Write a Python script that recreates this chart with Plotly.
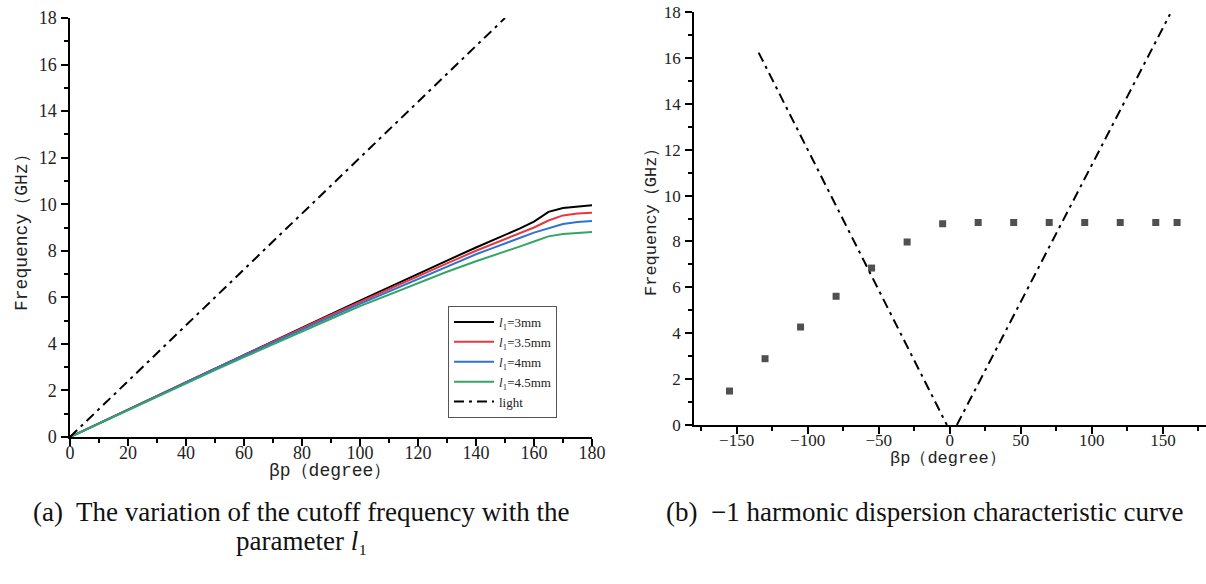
import plotly.graph_objects as go

# ---------------- data: (a) cutoff frequency vs beta*p ----------------
beta_a = [0, 10, 20, 30, 40, 50, 60, 70, 80, 90, 100, 110, 120, 130, 140,
          145, 150, 155, 160, 165, 170, 175, 180]
f_3mm = [0, 0.59, 1.18, 1.77, 2.36, 2.95, 3.54, 4.12, 4.70, 5.28, 5.86, 6.44,
         7.01, 7.58, 8.14, 8.40, 8.67, 8.95, 9.25, 9.67, 9.84, 9.90, 9.96]
f_35mm = [0, 0.60, 1.19, 1.77, 2.36, 2.94, 3.52, 4.10, 4.67, 5.24, 5.80, 6.36,
          6.92, 7.46, 8.00, 8.25, 8.52, 8.75, 9.00, 9.30, 9.52, 9.60, 9.63]
f_4mm = [0, 0.59, 1.18, 1.76, 2.34, 2.92, 3.49, 4.06, 4.62, 5.17, 5.72, 6.26,
         6.80, 7.32, 7.85, 8.08, 8.30, 8.55, 8.78, 8.98, 9.15, 9.24, 9.28]
f_45mm = [0, 0.58, 1.16, 1.73, 2.30, 2.87, 3.43, 3.99, 4.54, 5.08, 5.62, 6.12,
          6.60, 7.10, 7.55, 7.75, 7.97, 8.18, 8.40, 8.62, 8.72, 8.77, 8.81]
light_a_x = [0, 150]
light_a_y = [0, 18]

# ---------------- data: (b) -1 harmonic dispersion ----------------
beta_b = [-155, -130, -105, -80, -55, -30, -5, 20, 45, 70, 95, 120, 145, 160]
f_b = [1.48, 2.89, 4.27, 5.61, 6.84, 7.98, 8.77, 8.83, 8.83, 8.83, 8.83, 8.83, 8.83, 8.83]
light_left_x = [-134.5, -2]
light_left_y = [16.23, 0]
light_right_x = [5, 155]
light_right_y = [0, 17.9]

W, H = 1206, 584
SERIF = "Liberation Serif"
MONO = "Liberation Mono"
DASHDOT = "10px,5px,3px,5px"

fig = go.Figure()

series = [
    (f_3mm, "<i>l</i>₁=3mm", "#000000"),
    (f_35mm, "<i>l</i>₁=3.5mm", "#e8383d"),
    (f_4mm, "<i>l</i>₁=4mm", "#2e72d8"),
    (f_45mm, "<i>l</i>₁=4.5mm", "#35a565"),
]
for ys, name, col in series:
    fig.add_trace(go.Scatter(x=beta_a, y=ys, mode="lines", name=name,
                             line=dict(color=col, width=2),
                             xaxis="x", yaxis="y"))
fig.add_trace(go.Scatter(x=light_a_x, y=light_a_y, mode="lines", name="light",
                         line=dict(color="black", width=2, dash=DASHDOT),
                         xaxis="x", yaxis="y"))

# right panel
fig.add_trace(go.Scatter(x=beta_b, y=f_b, mode="markers", showlegend=False,
                         marker=dict(symbol="square", size=7, color="#505050"),
                         xaxis="x2", yaxis="y2"))
for lx, ly in [(light_left_x, light_left_y), (light_right_x, light_right_y)]:
    fig.add_trace(go.Scatter(x=lx, y=ly, mode="lines", showlegend=False,
                             line=dict(color="black", width=2, dash=DASHDOT),
                             xaxis="x2", yaxis="y2"))


def ax(fs, standoff, **kw):
    d = dict(showgrid=False, zeroline=False, showline=True, linecolor="black",
             linewidth=1.5, ticks="outside", ticklen=7, tickwidth=1.5,
             tickcolor="black", mirror=False, automargin=False,
             ticklabelstandoff=standoff,
             tickfont=dict(family=SERIF, size=fs, color="#222"))
    d.update(kw)
    return d


def minor(dt):
    return dict(dtick=dt, ticklen=4, ticks="outside", tickcolor="black", tickwidth=1.5)


fig.update_layout(
    width=W, height=H, margin=dict(l=0, r=0, t=0, b=0, autoexpand=False),
    paper_bgcolor="white", plot_bgcolor="white",
    xaxis=ax(18, -8, domain=[70 / W, 592 / W], range=[0, 180], dtick=20, tick0=0,
             minor=minor(10), anchor="y"),
    yaxis=ax(18, 1, domain=[(H - 437) / H, (H - 18) / H], range=[0, 18], dtick=2, tick0=0,
             minor=minor(1), anchor="x"),
    xaxis2=ax(17, -8, domain=[694 / W, 1205.5 / W], range=[-180, 180], dtick=50, tick0=0,
              minor=minor(25), anchor="y2"),
    yaxis2=ax(17, 1, domain=[(H - 425) / H, (H - 12) / H], range=[0, 18], dtick=2, tick0=0,
              minor=minor(1), anchor="x2"),
    showlegend=True,
    legend=dict(x=448 / W, y=(H - 306) / H, xanchor="left", yanchor="top",
                bordercolor="#555", borderwidth=1, bgcolor="white",
                font=dict(family=SERIF, size=13, color="#222"),
                tracegroupgap=0, itemwidth=40),
)

anns = [
    # axis titles
    dict(text="Frequency（GHz）", x=22 / W, y=(H - 228) / H, textangle=-90,
         font=dict(family=MONO, size=18, color="#222")),
    dict(text="βp（degree）", x=330 / W, y=(H - 471) / H,
         font=dict(family=MONO, size=18, color="#222")),
    dict(text="Frequency（GHz）", x=651 / W, y=(H - 218) / H, textangle=-90,
         font=dict(family=MONO, size=17, color="#222")),
    dict(text="βp（degree）", x=948 / W, y=(H - 458) / H,
         font=dict(family=MONO, size=17, color="#222")),
    # captions
    dict(text="(a)  The variation of the cutoff frequency with the", x=301 / W, y=(H - 512) / H,
         font=dict(family=SERIF, size=27, color="#111")),
    dict(text="parameter <i>l</i>₁", x=302 / W, y=(H - 541) / H,
         font=dict(family=SERIF, size=27, color="#111")),
    dict(text="(b)  −1 harmonic dispersion characteristic curve", x=925 / W, y=(H - 512) / H,
         font=dict(family=SERIF, size=27, color="#111")),
]
for a in anns:
    a.update(xref="paper", yref="paper", showarrow=False, xanchor="center", yanchor="middle")
    fig.add_annotation(**a)

fig.write_html("out.html", config={"displayModeBar": False},
               post_script="document.body.style.margin='0';document.body.style.overflow='hidden';")
